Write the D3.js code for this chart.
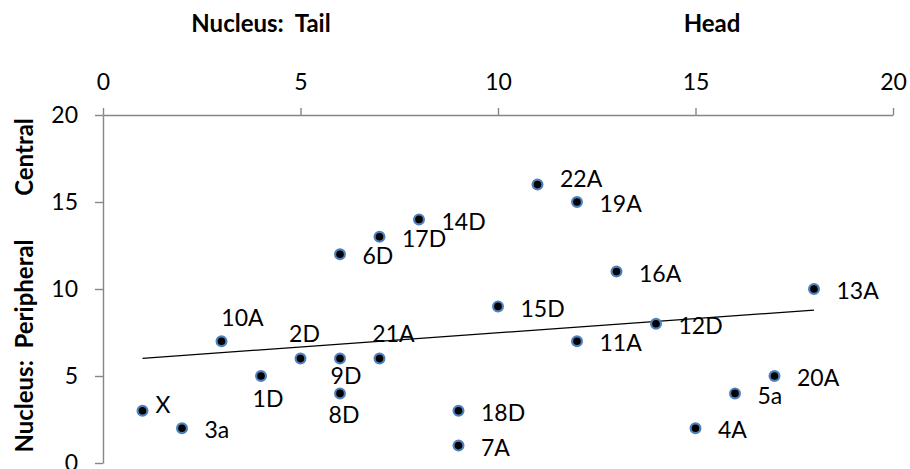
<!DOCTYPE html>
<html><head><meta charset="utf-8">
<script src="https://cdn.jsdelivr.net/npm/d3@7"></script>
<style>
html,body{margin:0;padding:0;background:#fff;}
svg{display:block;font-family:Lato,"Liberation Sans",sans-serif;}
.title{white-space:pre;font-weight:bold;font-size:24px;}
</style></head>
<body>
<svg id="chart" width="910" height="469"></svg>
<script>
// ---- data ----
const names = ["X","3a","10A","1D","2D","9D","8D","21A","6D","17D","14D","18D","7A","15D","22A","19A","11A","16A","12D","4A","5a","20A","13A"];
const tailValues = [1,2,3,4,5,6,6,7,6,7,8,9,9,10,11,12,12,13,14,15,16,17,18];
const centralValues = [3,2,7,5,6,6,4,6,12,13,14,3,1,9,16,15,7,11,8,2,4,5,10];
const tickValues = [0,5,10,15,20];
const xTitles = ["Nucleus:  Tail","Head"];
const yTitles = ["Nucleus:  Peripheral","Central"];

// label placement (offset of label anchor from point: [anchor, dx, dyCenter])
const labelPlace = {
  "X":["start",13,-6], "22A":["start",22.5,-6],
  "10A":["middle",21,-23], "2D":["middle",4,-25], "21A":["middle",14,-25],
  "9D":["middle",6,17], "1D":["middle",7,23], "8D":["middle",4,21]
};
const defaultPlace = ["start",22.5,2];

const svg = d3.select("#chart");
const x = d3.scaleLinear().domain([0,20]).range([103,893]);
const y = d3.scaleLinear().domain([0,20]).range([463,115]);
const axisColor = "#868686";
const fs = 23;

// top axis
const gx = svg.append("g").attr("transform",`translate(0,${y(20)})`)
  .call(d3.axisTop(x).tickValues(tickValues).tickSize(7).tickSizeOuter(0).tickPadding(18));
// left axis
const gy = svg.append("g").attr("transform",`translate(${x(0)},0)`)
  .call(d3.axisLeft(y).tickValues(tickValues).tickSize(8).tickSizeOuter(0).tickPadding(17));
[gx,gy].forEach(g=>{
  g.selectAll("path.domain").attr("stroke",axisColor).attr("stroke-width",1.4);
  g.selectAll(".tick line").attr("stroke",axisColor).attr("stroke-width",1.4);
  g.selectAll(".tick text").attr("fill","#000").style("font-size",fs+"px").style("font-family","Lato");
});

// trendline (least squares)
const n = tailValues.length;
const mx = d3.mean(tailValues), my = d3.mean(centralValues);
let sxy=0,sxx=0;
for(let i=0;i<n;i++){ sxy+=(tailValues[i]-mx)*(centralValues[i]-my); sxx+=(tailValues[i]-mx)**2; }
const slope = sxy/sxx, icpt = my - slope*mx;
const [x0,x1] = d3.extent(tailValues);
svg.append("line")
  .attr("x1",x(x0)).attr("y1",y(icpt+slope*x0))
  .attr("x2",x(x1)).attr("y2",y(icpt+slope*x1))
  .attr("stroke","#000").attr("stroke-width",1.2);

// points
const pts = names.map((nm,i)=>({name:nm,x:tailValues[i],y:centralValues[i]}));
svg.append("g").selectAll("circle").data(pts).join("circle")
  .attr("cx",d=>x(d.x)).attr("cy",d=>y(d.y)).attr("r",4.9)
  .attr("fill","#000").attr("stroke","#4f81bd").attr("stroke-width",2.2);

// labels
svg.append("g").selectAll("text").data(pts).join("text")
  .each(function(d){
    const p = labelPlace[d.name] || defaultPlace;
    d3.select(this)
      .attr("text-anchor",p[0])
      .attr("x",x(d.x)+p[1])
      .attr("y",y(d.y)+p[2]+0.36*fs);
  })
  .style("font-size",fs+"px").attr("fill","#000").text(d=>d.name);

// titles
svg.append("text").attr("class","title").attr("x",261).attr("y",32).attr("text-anchor","middle").text(xTitles[0]);
svg.append("text").attr("class","title").attr("x",712).attr("y",32).attr("text-anchor","middle").text(xTitles[1]);
svg.append("text").attr("class","title").attr("transform","translate(33,346) rotate(-90)").attr("text-anchor","middle").text(yTitles[0]);
svg.append("text").attr("class","title").attr("transform","translate(33,157) rotate(-90)").attr("text-anchor","middle").text(yTitles[1]);
</script>
</body></html>
